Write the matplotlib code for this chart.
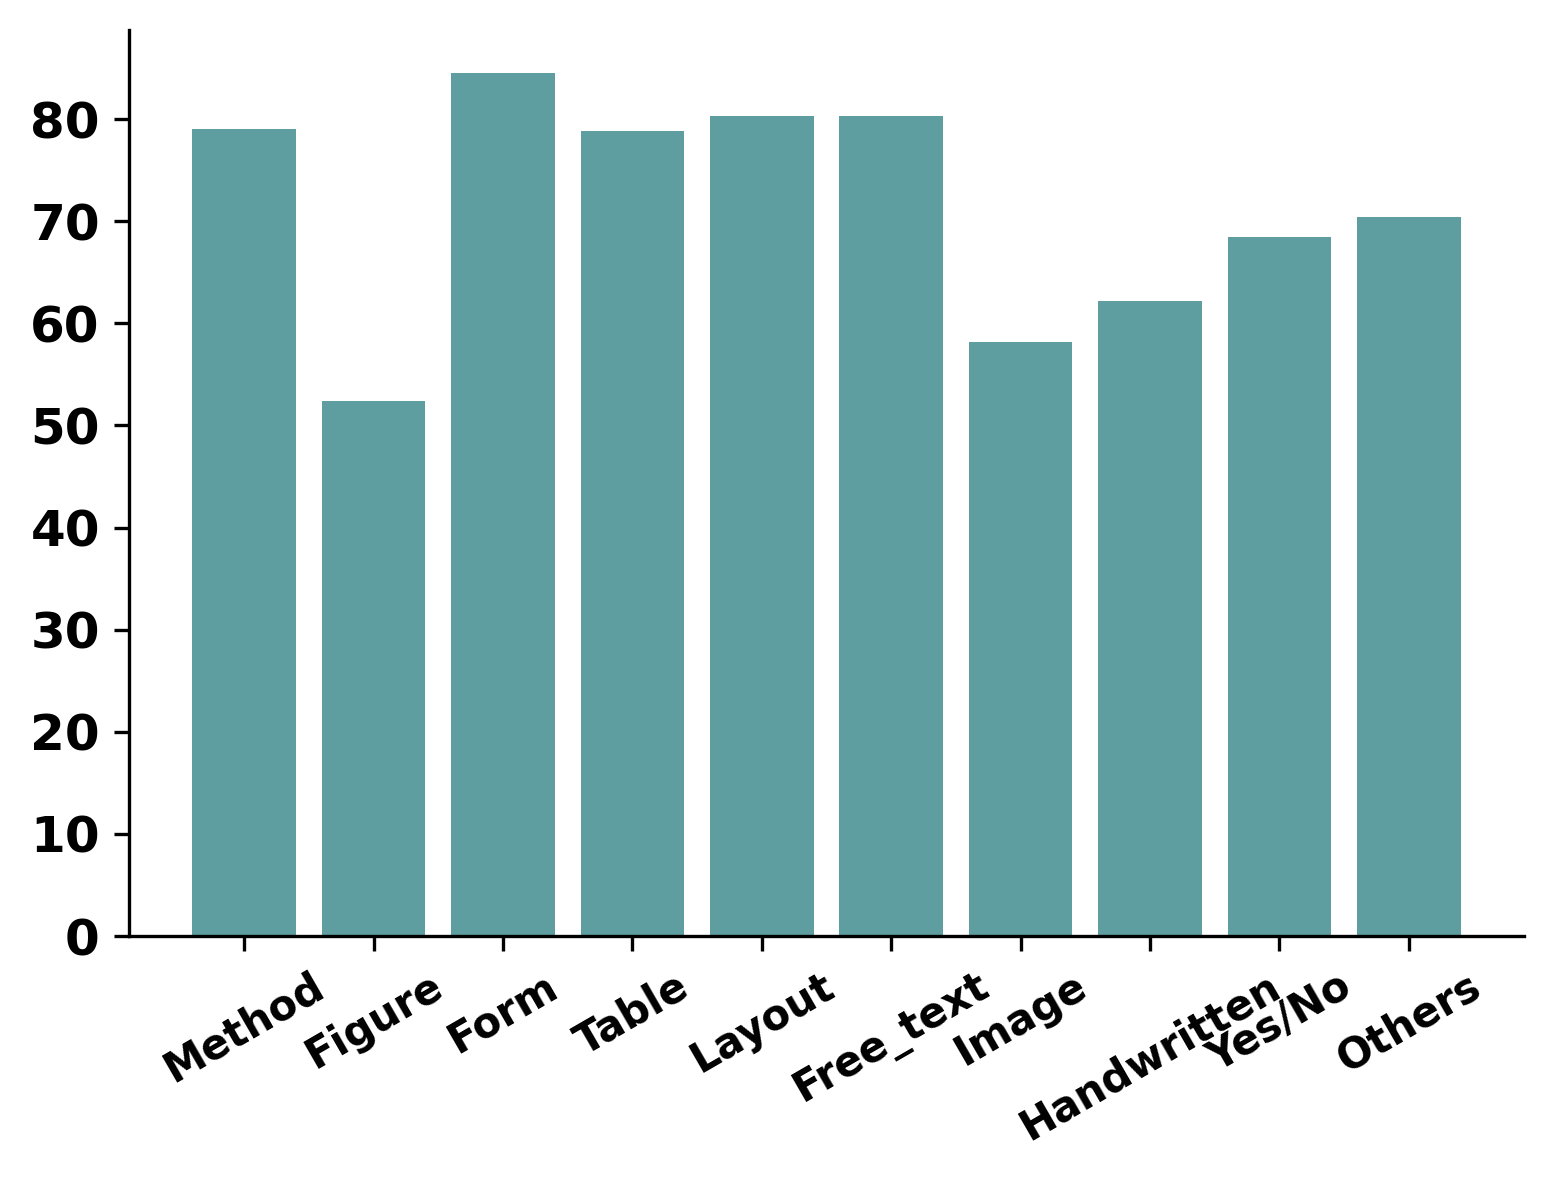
import matplotlib
matplotlib.use('Agg')
import matplotlib.pyplot as plt

categories = ['Method', 'Figure', 'Form', 'Table', 'Layout', 'Free_text',
              'Image', 'Handwritten', 'Yes/No', 'Others']
scores = [79.0, 52.4, 84.5, 78.8, 80.3, 80.3, 58.2, 62.2, 68.5, 70.4]

fig, ax = plt.subplots(figsize=(1553 / 300, 1178 / 300), dpi=300)
fig.subplots_adjust(left=129 / 1553, right=1524 / 1553, top=1 - 30 / 1178, bottom=1 - 936 / 1178)

ax.bar(categories, scores, color='cadetblue', width=0.8)
ax.spines['top'].set_visible(False)
ax.spines['right'].set_visible(False)

plt.xticks(rotation=30, fontsize=10, fontweight='bold')
plt.yticks(fontsize=12, fontweight='bold')

fig.savefig('out.png', dpi=300)
